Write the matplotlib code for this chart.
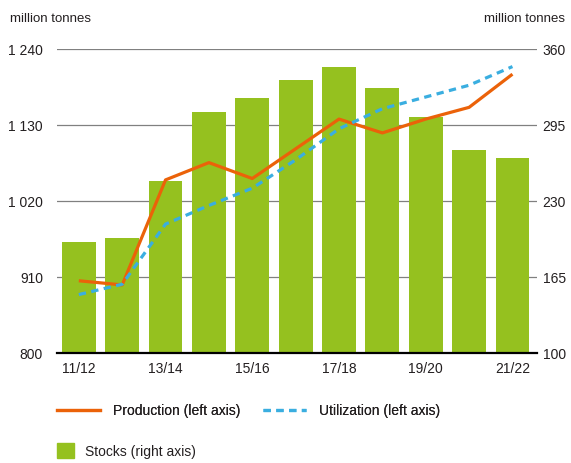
import numpy as np
import matplotlib
matplotlib.use("Agg")
import matplotlib.pyplot as plt
from matplotlib.lines import Line2D
from matplotlib.patches import Patch

plt.rcParams['font.family'] = ['Liberation Sans', 'DejaVu Sans']
plt.rcParams['text.color'] = '#231f20'

# Season labels and values (million tonnes)
seasons = ['11/12', '12/13', '13/14', '14/15', '15/16', '16/17',
           '17/18', '18/19', '19/20', '20/21', '21/22']
production = [905, 899, 1051, 1076, 1053, 1096, 1139, 1119, 1139, 1156, 1204]
utilization = [885, 900, 987, 1014, 1039, 1080, 1125, 1154, 1171, 1188, 1215]
stocks = [195, 199, 247, 306, 318, 334, 345, 327, 302, 274, 267]

left_ticks = [800, 910, 1020, 1130, 1240]
right_ticks = [100, 165, 230, 295, 360]

green = '#95c11f'
orange = '#eb6209'
blue = '#3aaee0'
ink = '#231f20'

x = np.arange(len(seasons))

fig = plt.figure(figsize=(5.71, 4.63), dpi=100)
ax2 = fig.add_axes([0.0993, 0.2369, 0.8407, 0.6566])
ax = ax2.twinx()

# stocks on the right axis, behind the lines
ax2.bar(x, stocks, width=0.78, color=green, zorder=2)
ax2.set_ylim(100, 360)
ax2.set_yticks(right_ticks)
ax2.yaxis.grid(True, color='#808080', linewidth=0.9, zorder=0)
ax2.set_axisbelow(True)

ax.plot(x, production, color=orange, linewidth=2.3, solid_capstyle='butt')
ax.plot(x, utilization, color=blue, linewidth=2.3, linestyle=(0, (2.3, 1.7)))
ax.set_ylim(800, 1240)
ax.set_yticks(left_ticks)
ax.set_yticklabels([f'{v:,}'.replace(',', ' ') for v in left_ticks])
ax.set_xlim(-0.51, 10.56)

# production/utilization scale sits on the left, stocks on the right
ax.yaxis.tick_left()
ax2.yaxis.tick_right()
ax.set_zorder(ax2.get_zorder() + 1)
ax.patch.set_visible(False)

for a in (ax, ax2):
    for s in a.spines.values():
        s.set_visible(False)
ax2.spines['bottom'].set_visible(True)
ax2.spines['bottom'].set_linewidth(1.6)
ax2.spines['bottom'].set_color('black')

ax2.set_xticks(x[::2])
ax2.set_xticklabels(seasons[::2])
ax2.tick_params(axis='x', length=0, pad=6.5, labelsize=10, labelcolor=ink)
ax2.tick_params(axis='y', length=0, pad=4.2, labelsize=10, labelcolor=ink)
ax.tick_params(axis='y', length=0, pad=9.8, labelsize=10, labelcolor=ink)
ax.tick_params(axis='x', length=0, labelbottom=False)

fig.text(0.018, 0.960, 'million tonnes', fontsize=9.5, ha='left', va='center')
fig.text(0.990, 0.960, 'million tonnes', fontsize=9.5, ha='right', va='center')

line_handles = [Line2D([], [], color=orange, linewidth=2.3),
                Line2D([], [], color=blue, linewidth=2.3, linestyle=(0, (2.3, 1.7)))]
leg1 = fig.legend(line_handles, ['Production (left axis)', 'Utilization (left axis)'],
                  loc='center left', bbox_to_anchor=(0.0998, 0.112), ncol=2,
                  frameon=False, fontsize=10, handlelength=3.1, handletextpad=0.95,
                  columnspacing=1.6, borderaxespad=0, borderpad=0)
fig.add_artist(leg1)
fig.legend([Patch(color=green)], ['Stocks (right axis)'],
           loc='center left', bbox_to_anchor=(0.0998, 0.026),
           frameon=False, fontsize=10, handlelength=1.2, handleheight=1.3,
           handletextpad=0.8, borderaxespad=0, borderpad=0)

fig.savefig('out.png', dpi=100)
